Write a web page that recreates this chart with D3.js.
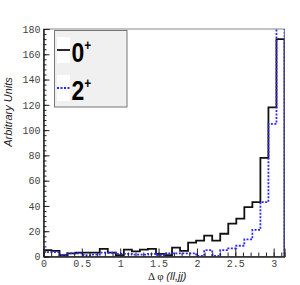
<!DOCTYPE html>
<html>
<head>
<meta charset="utf-8">
<script src="https://cdn.jsdelivr.net/npm/d3@7"></script>
<style>
  body { margin: 0; background: #fff; }
  svg { display: block; }
</style>
</head>
<body>
<svg id="chart" width="300" height="285"></svg>
<script>
// 30 bins over [0, pi]
const nBins = 30;
const spin0 = [5, 4.5, 1, 2.5, 3, 3, 3, 6, 3, 1, 5.5, 4, 5.5, 6, 2, 1, 7, 4.5, 11, 12.5, 16.5, 12.5, 18, 26, 30, 39, 43, 78, 118, 172];
const spin2 = [3.5, 3.5, 1, 2.5, 2.5, 1, 1.5, 3, 3, 2, 2, 1.5, 1.5, 2, 1, 2.5, 2.5, 2.5, 2.5, 0.5, 5, 0.5, 5, 6.5, 8.5, 13.5, 21, 43, 105, 190];
const xTicks = [0, 0.5, 1, 1.5, 2, 2.5, 3];
const yTicks = [0, 20, 40, 60, 80, 100, 120, 140, 160, 180];

const svg = d3.select("#chart");
const mLeft = 43.5, mRight = 284.5, mTop = 29, mBottom = 256.5;

let x = d3.scaleLinear().domain([0, Math.PI]).range([mLeft, mRight]);
let y = d3.scaleLinear().domain([0, 180]).range([mBottom, mTop]);
const binW = Math.PI / nBins;

svg.append("clipPath").attr("id", "clip")
    .append("rect").attr("x", mLeft).attr("y", mTop)
    .attr("width", mRight - mLeft).attr("height", mBottom - mTop);

// frame
svg.append("rect")
    .attr("x", mLeft).attr("y", mTop)
    .attr("width", mRight - mLeft).attr("height", mBottom - mTop)
    .attr("fill", "none").attr("stroke", "#888").attr("stroke-width", 1);

// step outline
function stepPath(vals) {
    let p = d3.path();
    vals.forEach((v, i) => {
        let x0 = x(i * binW), x1 = x((i + 1) * binW);
        if (i === 0) p.moveTo(x0, y(v)); else p.lineTo(x0, y(v));
        p.lineTo(x1, y(v));
    });
    p.lineTo(x(nBins * binW), y(0));
    return p.toString();
}

svg.append("path")
    .attr("d", stepPath(spin0))
    .attr("clip-path", "url(#clip)")
    .attr("fill", "none").attr("stroke", "#111").attr("stroke-width", 1.8);

svg.append("path")
    .attr("d", stepPath(spin2))
    .attr("clip-path", "url(#clip)")
    .attr("fill", "none").attr("stroke", "#2a2aff").attr("stroke-width", 1.8)
    .attr("stroke-dasharray", "2,1.5");

// axes
const labelFont = "'Liberation Mono', 'DejaVu Sans Mono', monospace";

let yMinor = svg.append("g").attr("transform", `translate(${mLeft},0)`)
    .call(d3.axisLeft(y).tickValues(d3.range(0, 181, 4)).tickSize(-3).tickFormat(""));
let yAxis = svg.append("g").attr("transform", `translate(${mLeft},0)`)
    .call(d3.axisLeft(y).tickValues(yTicks).tickSize(-6).tickPadding(3));

let xMinor = svg.append("g").attr("transform", `translate(0,${mBottom})`)
    .call(d3.axisBottom(x).tickValues(d3.range(0, 3.15, 0.1)).tickSize(-4).tickFormat(""));
let xAxis = svg.append("g").attr("transform", `translate(0,${mBottom})`)
    .call(d3.axisBottom(x).tickValues(xTicks).tickSize(-8).tickPadding(3).tickFormat(d3.format("~g")));

[yMinor, yAxis, xMinor, xAxis].forEach(g => {
    g.select(".domain").attr("stroke", "#222").attr("stroke-width", 1);
    g.selectAll(".tick line").attr("stroke", "#222");
    g.selectAll("text").attr("font-family", labelFont).attr("font-size", 10).attr("fill", "#444");
});

// axis titles
svg.append("text")
    .attr("transform", "translate(12,112) rotate(-90)")
    .attr("text-anchor", "middle")
    .attr("font-family", "'Liberation Sans', Arial, sans-serif")
    .attr("font-style", "italic").attr("font-size", 11).attr("fill", "#222")
    .text("Arbitrary Units");

let xt = svg.append("text")
    .attr("x", 148).attr("y", 280)
    .attr("font-size", 11).attr("fill", "#222");
xt.append("tspan").attr("font-family", "'Liberation Serif', serif").text("Δ φ ");
xt.append("tspan").attr("font-family", "'Liberation Sans', sans-serif").attr("font-style", "italic").text("(ll,jj)");

// legend
const legend = svg.append("g");
legend.append("rect")
    .attr("x", 54.5).attr("y", 30.5).attr("width", 72.5).attr("height", 76.5)
    .attr("fill", "#f0f0f0").attr("stroke", "#777").attr("stroke-width", 1);

const entries = [
    { label: "0", color: "#111", dash: null, yc: 50 },
    { label: "2", color: "#2a2aff", dash: "2,1.5", yc: 88 }
];
entries.forEach(e => {
    legend.append("rect").attr("x", 57).attr("y", e.yc - 13)
        .attr("width", 13).attr("height", 26).attr("fill", "#fff");
    legend.append("line")
        .attr("x1", 57).attr("x2", 70).attr("y1", e.yc).attr("y2", e.yc)
        .attr("stroke", e.color).attr("stroke-width", 1.8)
        .attr("stroke-dasharray", e.dash);
    let t = legend.append("text")
        .attr("transform", `translate(71.5,${e.yc + 11.5}) scale(0.85,1)`)
        .attr("font-family", "'Liberation Sans', Arial, sans-serif")
        .attr("font-weight", "bold").attr("font-size", 27).attr("fill", "#000");
    t.append("tspan").text(e.label);
    t.append("tspan").attr("font-size", 14).attr("dy", -12).text("+");
});
</script>
</body>
</html>
